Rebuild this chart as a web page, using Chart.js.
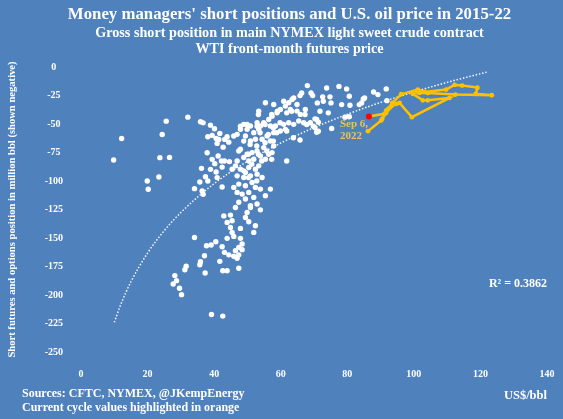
<!DOCTYPE html>
<html><head><meta charset="utf-8">
<script src="https://cdn.jsdelivr.net/npm/chart.js@4"></script>
<style>html,body{margin:0;padding:0;background:#4F81BD;overflow:hidden}#wrap{position:relative;width:563px;height:419px}</style>
</head><body><div id="wrap"><canvas id="c" width="563" height="419"></canvas></div>
<script>
// ---- DATA ----
const titleText = "Money managers' short positions and U.S. oil price in 2015-22";
const subtitleLines = ["Gross short position in main NYMEX light sweet crude contract", "WTI front-month futures price"];
const yAxisTitle = "Short futures and options position in million bbl (shown negative)";
const xAxisTitle = "US$/bbl";
const footLines = ["Sources: CFTC, NYMEX, @JKempEnergy", "Current cycle values highlighted in orange"];
const r2Label = "R\u00B2 = 0.3862";
const latestLabel = ["Sep 6,", "2022"];

// historical weekly points (WTI price, short position)
const whitePrice = [
12.2,9.8,25.6,32.1,24.4,23.7,26.6,19.9,20.2,23.4,35.9,36.7,38.9,40.1,41.7,38.1,39.4,40.6,41.4,43.2,43.9,40.9,42.7,44.4,37.9,41.2,39.4,40.2,42.2,43.1,44.6,36.2,38.9,40.6,42.4,37.4,38.1,40.9,34.1,35.7,36.4,36.7,42.4,
34.1,37.7,39.1,40.5,42.9,42.4,43.1,37.1,35.9,35.7,41.7,37.3,42.6,43.9,31.6,31.2,28.2,28.7,27.7,29.6,30.2,39.2,42.6,
46.4,50.9,53.9,49.9,49.4,44.9,43.9,45.4,50.4,52.4,47.9,44.9,45.4,51.9,43.9,45.9,47.9,48.4,47.4,48.4,46.4,47.4,45.9,46.9,44.4,47.4,
68,73.8,77.5,79.8,69.1,69.6,66.3,65.8,72.6,74.8,71,72.8,75.1,78.3,80.6,80.8,83.6,84.3,84.8,85.2,87.9,89.2,91.7,74.3,71.8,80.6,79.3,75.3,70.3,71.3,70.3,70.8,71.3,65.8,61.8,91.9,
63.4,63.9,62.4,64.9,60.9,61.4,59.9,62.9,64.9,65.9,67.4,66.9,68.9,65.4,63.9,62.4,60.9,61.4,59.9,57.9,58.9,57.4,56.4,54.9,56.9,58.4,53.9,52.9,53.4,51.9,50.9,49.9,48.9,47.9,46.9,45.9,49.4,50.9,52.4,54.4,55.9,56.9,57.9,54.9,52.9,51.4,49.9,47.9,48.9,46.9,50.4,51.9,53.9,55.4,56.4,57.4,53.4,52.4,50.4,49.4,47.9,46.4,45.4,46.9,48.9,50.9,52.9,54.4,51.4,49.4,47.4,45.9,46.9,48.4,50.4,52.4,53.9,56.9,55.4,51.9,49.4,47.4,50.9,52.9,53.4,55.4,57.9,
47.9,49.9,52.9,55.3,57.8,59.8,53.8,56.3,58.8,61.8,63.8,57.8,55.3,52.8,50.8,48.9,47.4,50.3,53.3,55.8,57.3,54.3,51.3,48.9,50.3,52.8,53.3,57.3,59,61.8,63.3,67.3,67.8,69.8,70.8
];
const whiteShort = [
-62.7,-81.6,-47.5,-44,-59.2,-79.5,-79.3,-100,-107.3,-96.5,-48,-49,-51,-54.2,-58.3,-61.2,-60,-62.7,-63.5,-63.5,-61.2,-67,-70.3,-65.9,-75.2,-78.1,-81,-84.8,-82.5,-82.5,-83,-88.9,-89.8,-92.1,-87.8,-96.2,-100,-97,-106.7,-100.9,-108.7,-111.6,-105.2,
-149.5,-156.8,-156.2,-153.3,-130.6,-157.7,-162.6,-165.6,-170.8,-173.4,-170.5,-180.7,-178.7,-178.7,-174.8,-177.8,-183,-187.4,-190.3,-194.1,-199.7,-217.1,-218.5,
-123.2,-123.2,-125.3,-127.6,-132,-129.9,-136.3,-134.9,-135.7,-139.2,-141.6,-140.7,-145.1,-145.1,-150.3,-148.6,-150.3,-155.2,-158.2,-160.2,-161.1,-164.8,-166,-167.8,-164.8,-176.5,
-16.3,-18.4,-17,-19.2,-22.7,-25.1,-22.7,-25.1,-26.2,-26.2,-31.5,-30,-31.5,-33,-25.7,-33.5,-33,-31.5,-28,-27.1,-21.9,-24.2,-19.2,-40.2,-38.8,-43.7,-44,-53.9,-45.5,-48.4,-53.3,-57.2,-56.3,-64.1,-82.5,-29.5,
-28.5,-27.1,-31.4,-32.9,-30,-34.3,-37.3,-37.3,-38.7,-41.6,-37.3,-48.9,-48.9,-47.4,-50.3,-48.9,-50.3,-54.7,-56.2,-57.6,-40.2,-43.1,-46,-48.9,-51.8,-51.8,-51.8,-48.9,-54.7,-57.6,-51.8,-54.7,-50.3,-54.7,-59.1,-60.5,-60.5,-64.9,-63.4,-63.4,-60.5,-64.9,-69.3,-70.7,-73.6,-75.1,-76.5,-72.2,-79.4,-82.4,-82.4,-80.9,-78,-80.9,-76.5,-75.1,-86.7,-89.6,-88.2,-92.5,-89.6,-86.7,-89.6,-95.5,-96.9,-95.5,-94,-96.9,-101.3,-104.2,-102.7,-105.6,-110,-111.5,-110,-105.6,-107.1,-107.1,-112.9,-114.4,-115.8,-118.7,-121.6,-120.2,-38.7,-31.4,-32.9,
-51.9,-50.4,-51.9,-50.4,-53.3,-48.9,-57.7,-59.1,-57.7,-56.2,-62,-65,-66.4,-69.3,-67.9,-65,-73.7,-76.6,-76.6,-73.7,-81,-82.4,-85.3,-91.1,-97,-99.9,-41.7,-41.7,-38.8,-40.2,-38.8,-41.7,-50.4,-51.9,-46
];

// current cycle (chronological, last = Sep 6, 2022)
const orangePrice = [86.2,90.2,91.7,92.2,93.2,93.5,96.2,101.2,103.2,109.7,112.2,114.5,119.1,118.6,123.4,112.5,104.2,101.7,99.7,102.7,104.2,110.7,99.4,95.7,94.7,92.7,91.7,90.5,91.2,86.5];
const orangeShort = [-56.3,-46.9,-40.2,-37.3,-34.4,-31.5,-23.9,-19.8,-21.9,-19.8,-15.7,-16.3,-18.1,-23.6,-24.8,-24.2,-22.7,-22.7,-23.6,-29.2,-29.2,-27.1,-44.0,-31.5,-32.4,-35.8,-38.2,-45.4,-41.0,-43.4];

// logarithmic trend line
const trendPrice = [10,12,15,20,25,30,40,50,60,70,80,90,100,110,122];
const trendShort = [-224,-208,-188.4,-163.2,-143.6,-127.6,-102.3,-82.7,-66.7,-53.2,-41.5,-31.1,-21.9,-13.5,-4.4];

const r2LabelAt = -190; // y value where R² label sits

// ---- BUILD ----
const FF = "'Liberation Serif','Times New Roman',serif";
const toPts = (xs, ys) => xs.slice(0, Math.min(xs.length, ys.length)).map((x, i) => ({x, y: ys[i]}));
const lastIdx = orangePrice.length - 1;

const textPlugin = {
  id: 'texts',
  afterDraw(chart) {
    const {ctx, chartArea, scales: {x, y}} = chart;
    ctx.save();
    ctx.textBaseline = 'middle';
    ctx.fillStyle = '#ffffff';
    // titles (centred like the reference block)
    const cx = 289.5;
    ctx.textAlign = 'center';
    ctx.font = 'bold 16.8px ' + FF;
    ctx.fillText(titleText, cx, 14.5);
    ctx.font = 'bold 14.2px ' + FF;
    ctx.fillText(subtitleLines[0], cx, 33);
    ctx.fillText(subtitleLines[1], cx, 49);
    // R²
    ctx.font = 'bold 12px ' + FF;
    ctx.textAlign = 'right';
    ctx.fillText(r2Label, chartArea.right, y.getPixelForValue(r2LabelAt));
    // latest point label
    const px = x.getPixelForValue(orangePrice[lastIdx]);
    const py = y.getPixelForValue(orangeShort[lastIdx]);
    ctx.font = 'bold 11px ' + FF;
    ctx.fillStyle = '#E9C25A';
    ctx.textAlign = 'left';
    ctx.fillText(latestLabel[0], px - 29, py + 8);
    ctx.fillText(latestLabel[1], px - 29, py + 20);
    // footnotes
    ctx.font = 'bold 12px ' + FF;
    ctx.fillStyle = '#ffffff';
    ctx.fillText(footLines[0], 22, chart.height - 25);
    ctx.fillText(footLines[1], 22, chart.height - 11);
    ctx.restore();
  }
};

new Chart(document.getElementById('c'), {
  type: 'scatter',
  data: {
    datasets: [
      { label: 'latest', data: toPts([orangePrice[lastIdx]], [orangeShort[lastIdx]]),
        pointRadius: 3, pointBackgroundColor: '#FF0000', pointBorderWidth: 0, showLine: false },
      { label: 'current', data: toPts(orangePrice, orangeShort), showLine: true,
        borderColor: '#FFC000', borderWidth: 2.5, pointRadius: 2.4,
        pointBackgroundColor: '#FFC000', pointBorderWidth: 0, tension: 0 },
      { label: 'trend', data: toPts(trendPrice, trendShort), showLine: true, pointRadius: 0,
        borderColor: 'rgba(255,255,255,0.95)', borderWidth: 1.5, borderDash: [1.5, 1.8],
        cubicInterpolationMode: 'monotone' },
      { label: 'history', data: toPts(whitePrice, whiteShort), pointRadius: 2.7,
        pointBackgroundColor: '#ffffff', pointBorderWidth: 0 }
    ]
  },
  options: {
    responsive: false, animation: false, devicePixelRatio: 1,
    layout: { padding: { left: 6, right: 16, top: 67, bottom: 15 } },
    plugins: {
      legend: { display: false }, tooltip: { enabled: false },
      title: { display: false }, subtitle: { display: false }
    },
    scales: {
      x: { type: 'linear', min: 0, max: 140,
        grid: { display: false }, border: { display: false },
        ticks: { stepSize: 20, color: '#fff', padding: 8, font: { family: FF, size: 10, weight: 'bold' } },
        title: { display: true, text: xAxisTitle, align: 'end', color: '#fff',
          font: { family: FF, size: 12.5, weight: 'bold' }, padding: { top: 0, bottom: 1 } },
        afterFit(s) { s.height = 52; } },
      y: { type: 'linear', min: -250, max: 0,
        grid: { display: false }, border: { display: false },
        ticks: { stepSize: 25, color: '#fff', padding: 10, crossAlign: 'center', font: { family: FF, size: 10, weight: 'bold' } },
        title: { display: true, text: yAxisTitle, color: '#fff',
          font: { family: FF, size: 10.6, weight: 'bold' }, padding: { top: 0, bottom: 0 } },
        afterFit(s) { s.width = 75; } }
    }
  },
  plugins: [textPlugin]
});
</script></body></html>
